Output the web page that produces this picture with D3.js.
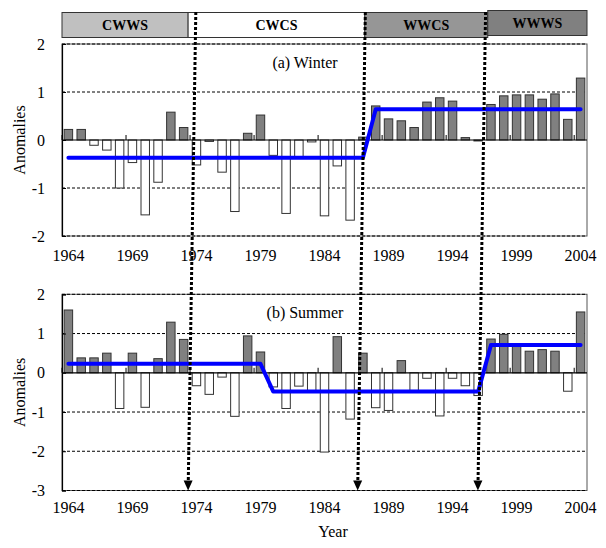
<!DOCTYPE html>
<html>
<head>
<meta charset="utf-8">
<script src="https://cdn.jsdelivr.net/npm/d3@7"></script>
<style>
  html, body { margin: 0; padding: 0; background: #fff; }
  svg { display: block; }
  svg text { font-family: "Liberation Serif", "Times New Roman", Times, serif !important; fill: #000; }
</style>
</head>
<body>
<svg id="chart" width="606" height="548"></svg>
<script>
// ---- data -------------------------------------------------------------
const years = [1964, 1965, 1966, 1967, 1968, 1969, 1970, 1971, 1972, 1973,
               1974, 1975, 1976, 1977, 1978, 1979, 1980, 1981, 1982, 1983,
               1984, 1985, 1986, 1987, 1988, 1989, 1990, 1991, 1992, 1993,
               1994, 1995, 1996, 1997, 1998, 1999, 2000, 2001, 2002, 2003, 2004];

const winter = [0.22, 0.22, -0.11, -0.21, -1.00, -0.47, -1.56, -0.88, 0.58, 0.26,
                -0.52, -0.03, -0.67, -1.49, 0.14, 0.52, -0.32, -1.53, -0.37, -0.04,
                -1.58, -0.54, -1.67, 0.06, 0.71, 0.44, 0.40, 0.26, 0.79, 0.88,
                0.81, 0.05, -0.02, 0.74, 0.92, 0.94, 0.94, 0.85, 0.96, 0.43, 1.29];

const summer = [1.60, 0.38, 0.38, 0.50, -0.91, 0.50, -0.88, 0.36, 1.29, 0.85,
                -0.33, -0.55, -0.11, -1.11, 0.94, 0.53, -0.36, -0.91, -0.34, -0.46,
                -2.02, 0.92, -1.18, 0.50, -0.89, -0.96, 0.31, -0.45, -0.14, -1.10,
                -0.14, -0.33, -0.58, 0.86, 0.98, 0.74, 0.55, 0.59, 0.55, -0.47, 1.55];

const tickYears = [1964, 1969, 1974, 1979, 1984, 1989, 1994, 1999, 2004];
const winterTicks = [-2, -1, 0, 1, 2];
const summerTicks = [-3, -2, -1, 0, 1, 2];

// regime means (step lines)
const winterFitYears  = [1964, 1987, 1988, 2004];
const winterFitValues = [-0.37, -0.37, 0.64, 0.64];
const summerFitYears  = [1964, 1979, 1980, 1996, 1997, 2004];
const summerFitValues = [0.23, 0.23, -0.48, -0.48, 0.71, 0.71];

// climate regimes shown in the top strip
const regimes      = ["CWWS", "CWCS", "WWCS", "WWWS"];
const regimeStarts = [1963.5, 1973.35, 1987.15, 1996.75];
const regimeEnd    = 2004.5;
const regimeFills  = ["#c0c0c0", "#ffffff", "#969696", "#808080"];

// regime shift years marked by the dotted arrows
const shiftYears = [1973.65, 1986.89, 1996.28];

const panelTitles = ["(a) Winter", "(b) Summer"];

// ---- layout -----------------------------------------------------------
const svg = d3.select("#chart");
const left = 62, right = 587;

const x = d3.scaleBand().domain(years).range([left, right])
  .paddingInner(0.34).paddingOuter(0.17);
const xc = yr => x(yr) + x.bandwidth() / 2;
const step = x.step();
// continuous year position (for the strip and the shift markers)
const yearX = d3.scaleLinear().domain([1963.5, 2004.5]).range([left, right]);

const panels = [
  { values: winter, ticks: winterTicks, domain: [-2, 2], top: 44, bottom: 236,
    title: panelTitles[0], titleY: 68, labelPad: 13.5,
    fitYears: winterFitYears, fitValues: winterFitValues },
  { values: summer, ticks: summerTicks, domain: [-3, 2], top: 294.3, bottom: 490.5,
    title: panelTitles[1], titleY: 318, labelPad: 11,
    fitYears: summerFitYears, fitValues: summerFitValues }
];

// ---- regime strip -----------------------------------------------------
const strip = svg.append("g");
regimes.forEach((name, i) => {
  const x0 = yearX(regimeStarts[i]);
  const x1 = yearX(i < regimes.length - 1 ? regimeStarts[i + 1] : regimeEnd);
  const yTop = i === regimes.length - 1 ? 10.5 : 12.5;
  strip.append("rect")
    .attr("x", x0).attr("y", yTop).attr("width", x1 - x0).attr("height", 25)
    .attr("fill", regimeFills[i]).attr("stroke", "#333").attr("stroke-width", 1);
  strip.append("text")
    .attr("x", (x0 + x1) / 2).attr("y", yTop + 12.5).attr("dy", "0.35em")
    .attr("text-anchor", "middle").attr("font-weight", "bold")
    .attr("font-size", 14).text(name);
});

// ---- panels -----------------------------------------------------------
panels.forEach(p => {
  const y = d3.scaleLinear().domain(p.domain).range([p.bottom, p.top]);
  const g = svg.append("g");

  // frame
  g.append("rect")
    .attr("x", left).attr("y", p.top).attr("width", right - left).attr("height", p.bottom - p.top)
    .attr("fill", "none").attr("stroke", "#555").attr("stroke-width", 1);

  // dashed gridlines
  g.selectAll(".grid").data(p.ticks.filter(t => t !== 0)).join("line")
    .attr("x1", left).attr("x2", right)
    .attr("y1", d => y(d)).attr("y2", d => y(d))
    .attr("stroke", "#000").attr("stroke-width", 1).attr("stroke-dasharray", "3,2");

  // bars
  g.selectAll(".bar").data(years.map((yr, i) => ({ yr, v: p.values[i] }))).join("rect")
    .attr("x", d => x(d.yr))
    .attr("width", x.bandwidth())
    .attr("y", d => y(Math.max(0, d.v)))
    .attr("height", d => Math.abs(y(d.v) - y(0)))
    .attr("fill", d => d.v >= 0 ? "#808080" : "#ffffff")
    .attr("stroke", "#333").attr("stroke-width", 1);

  // zero line with category tick marks
  g.append("line")
    .attr("x1", left).attr("x2", right).attr("y1", y(0)).attr("y2", y(0))
    .attr("stroke", "#000").attr("stroke-width", 1.2);
  g.selectAll(".ztick").data(tickYears).join("line")
    .attr("x1", d => x(d) - step * x.paddingInner() / 2)
    .attr("x2", d => x(d) - step * x.paddingInner() / 2)
    .attr("y1", y(0)).attr("y2", y(0) - 5)
    .attr("stroke", "#000").attr("stroke-width", 1);

  // left axis
  const ya = g.append("g").attr("transform", `translate(${left},0)`)
    .call(d3.axisLeft(y).tickValues(p.ticks).tickSize(-4).tickPadding(17)
      .tickFormat(d => String(d)));
  ya.select(".domain").attr("stroke", "#000").attr("stroke-width", 1.2);
  ya.selectAll("text").attr("font-size", 16);

  // year labels
  const xa = g.append("g").attr("transform", `translate(0,${p.bottom})`)
    .call(d3.axisBottom(x).tickValues(tickYears).tickSize(0).tickPadding(p.labelPad));
  xa.select(".domain").remove();
  xa.selectAll("text").attr("font-size", 16);

  // regime mean step line
  const line = d3.line().x(d => xc(d[0])).y(d => y(d[1]));
  g.append("path")
    .datum(p.fitYears.map((yr, i) => [yr, p.fitValues[i]]))
    .attr("d", line)
    .attr("fill", "none").attr("stroke", "#0000ff").attr("stroke-width", 4)
    .attr("stroke-linecap", "round").attr("stroke-linejoin", "round");

  // panel title
  g.append("text").attr("x", 305).attr("y", p.titleY)
    .attr("text-anchor", "middle").attr("font-size", 16).text(p.title);

  // y-axis title
  g.append("text")
    .attr("transform", `translate(19,${(p.top + p.bottom) / 2}) rotate(-90)`)
    .attr("text-anchor", "middle").attr("dy", "0.35em")
    .attr("font-size", 16).text("Anomalies");
});

// ---- x-axis title -----------------------------------------------------
svg.append("text").attr("x", 333).attr("y", 537)
  .attr("text-anchor", "middle").attr("font-size", 16).text("Year");

// ---- regime shift markers (dotted arrows) -----------------------------
const arrowTip = panels[1].bottom, arrowLen = 10, stripTop = 12;
const lean = 0.3;
const shifts = svg.append("g");
shiftYears.forEach(s => {
  const xTop = yearX(s + lean), xBot = yearX(s - lean);
  const t = (arrowTip - arrowLen - stripTop) / (arrowTip - stripTop);
  const xEnd = xTop + (xBot - xTop) * t;
  shifts.append("line")
    .attr("x1", xTop).attr("y1", stripTop).attr("x2", xEnd).attr("y2", arrowTip - arrowLen)
    .attr("stroke", "#000").attr("stroke-width", 3).attr("stroke-dasharray", "3,2");
  shifts.append("path")
    .attr("d", `M${xBot},${arrowTip} L${xBot - 4.5},${arrowTip - arrowLen} L${xBot + 4.5},${arrowTip - arrowLen} Z`)
    .attr("fill", "#000");
});
</script>
</body>
</html>
